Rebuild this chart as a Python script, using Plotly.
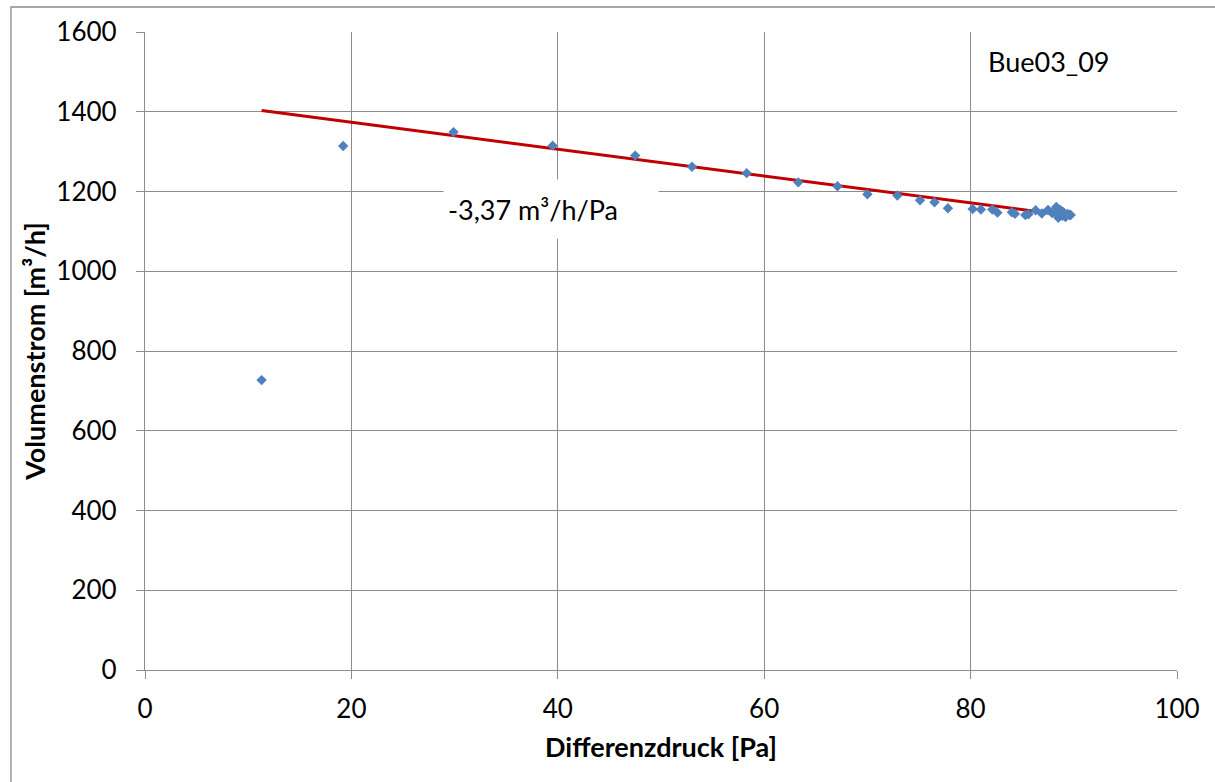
import plotly.graph_objects as go

# Measured differential pressure [Pa] and volume flow [m³/h]
druck = [11.3, 19.2, 29.9, 39.5, 47.5, 53.0, 58.3, 63.3, 67.1, 70.0, 72.9,
         75.1, 76.5, 77.8, 80.2, 81.0, 82.1, 82.6, 84.0, 84.3, 85.3, 85.6,
         86.3, 86.9, 87.5, 87.9, 88.3, 88.4, 88.5, 88.7, 88.9, 89.0, 89.1,
         89.2, 89.4, 89.6, 89.7]
volumenstrom = [727, 1314, 1349, 1315, 1290, 1262, 1246, 1223, 1213, 1193, 1190,
                1178, 1173, 1158, 1156, 1155, 1155, 1147, 1148, 1144, 1141, 1143,
                1153, 1145, 1154, 1146, 1161, 1143, 1134, 1154, 1139, 1148, 1144,
                1136, 1144, 1141, 1141]

# Linear trend: slope and intercept
steigung = -3.37
achsenabschnitt = 1441.0
trend_label = "-3,37 m³/h/Pa"
serien_name = "Bue03_09"

x_ticks = [0, 20, 40, 60, 80, 100]
y_ticks = [0, 200, 400, 600, 800, 1000, 1200, 1400, 1600]

FONT = "Lato"
GRID = "#8c8c8c"
TICK_SIZE = 26
TEXT_SIZE = 27

x_min, x_max = min(druck), max(druck)
trend_x = [x_min, x_max]
trend_y = [achsenabschnitt + steigung * v for v in trend_x]

fig = go.Figure()
fig.add_trace(go.Scatter(
    x=trend_x, y=trend_y, mode="lines",
    line=dict(color="#C00000", width=3), hoverinfo="skip", showlegend=False,
))
fig.add_trace(go.Scatter(
    x=druck, y=volumenstrom, mode="markers",
    marker=dict(symbol="diamond", size=8, color="#4F81BD"),
    showlegend=False,
))

W, H = 1215, 782
ML, MR, MT, MB = 145, 38, 32, 112

fig.update_layout(
    width=W, height=H,
    margin=dict(l=ML, r=MR, t=MT, b=MB),
    paper_bgcolor="white", plot_bgcolor="white",
    font=dict(family=FONT, color="black", size=TEXT_SIZE),
    xaxis=dict(
        range=[0, 100], tickvals=x_ticks, ticktext=[str(v) for v in x_ticks],
        showgrid=True, gridcolor=GRID, gridwidth=1.3,
        showline=True, linecolor=GRID, linewidth=1.3,
        ticks="outside", ticklen=8, tickcolor=GRID, tickwidth=1.3,
        tickfont=dict(size=TICK_SIZE, family=FONT), zeroline=False,
        ticklabelstandoff=8,
        title=dict(text="<b>Differenzdruck [Pa]</b>", font=dict(size=TEXT_SIZE, family=FONT), standoff=14),
    ),
    yaxis=dict(
        range=[0, 1600], tickvals=y_ticks, ticktext=[str(v) for v in y_ticks],
        showgrid=True, gridcolor=GRID, gridwidth=1.3,
        showline=True, linecolor=GRID, linewidth=1.3,
        ticks="outside", ticklen=8, tickcolor=GRID, tickwidth=1.3,
        tickfont=dict(size=TICK_SIZE, family=FONT), zeroline=False,
        ticklabelstandoff=14,
        title=dict(text="<b>Volumenstrom [m³/h]</b>", font=dict(size=TEXT_SIZE, family=FONT), standoff=2),
    ),
)

# Slope label in a white box over the grid
fig.add_annotation(
    x=39.3, y=1156, xref="x", yref="y", text=trend_label, showarrow=False,
    font=dict(size=TEXT_SIZE, family=FONT), bgcolor="white",
    width=206, height=50, align="left", xanchor="center", yanchor="middle",
    borderpad=4,
)
# Series name in the top-right corner
fig.add_annotation(
    x=81.5, y=1525, xref="x", yref="y", text=serien_name, showarrow=False,
    font=dict(size=TEXT_SIZE, family=FONT), xanchor="left", yanchor="middle",
)

# Outer chart frame
pw = W - ML - MR
ph = H - MT - MB
fig.add_shape(
    type="rect", xref="paper", yref="paper",
    x0=(11 - ML) / pw, x1=(W + 10 - ML) / pw,
    y0=-(H + 10 - MT - ph) / ph, y1=(H - MB - 7) / ph,
    line=dict(color="#8c8c8c", width=1.3), fillcolor="rgba(0,0,0,0)", layer="below",
)

fig.write_html("out.html")
